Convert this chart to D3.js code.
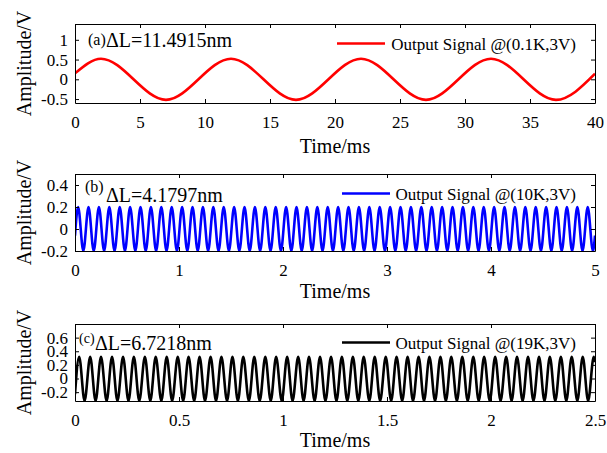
<!DOCTYPE html>
<html>
<head>
<meta charset="utf-8">
<script src="https://cdn.jsdelivr.net/npm/d3@7"></script>
<style>
  body { margin: 0; background: #fff; }
  svg text { font-family: "Liberation Serif", "Times New Roman", serif; fill: #000; }
</style>
</head>
<body>
<div id="chart"></div>
<script>
// Panel (a): 0.1K signal, extrema (time in ms, amplitude in V)
const timeA = [0, 2, 7, 12, 17, 22, 27, 32, 37, 40];
const ampA = [0.15, 0.52, -0.52, 0.52, -0.52, 0.52, -0.52, 0.52, -0.52, 0.14];

// Panel (b): 10K signal, times of the peaks / troughs (alternating), ends
const extremaB = [
  0.03, 0.08, 0.13, 0.18, 0.23, 0.28, 0.33, 0.38, 0.43, 0.48, 0.53, 0.58, 0.63, 0.68, 0.73, 0.78, 0.83, 0.88, 0.93, 0.98,
  1.03, 1.08, 1.13, 1.18, 1.23, 1.28, 1.33, 1.38, 1.43, 1.48, 1.53, 1.58, 1.63, 1.68, 1.73, 1.78, 1.83, 1.88, 1.93, 1.98,
  2.03, 2.08, 2.13, 2.18, 2.23, 2.28, 2.33, 2.38, 2.43, 2.48, 2.53, 2.58, 2.63, 2.68, 2.73, 2.78, 2.83, 2.88, 2.93, 2.98,
  3.03, 3.08, 3.13, 3.18, 3.23, 3.28, 3.33, 3.38, 3.43, 3.48, 3.53, 3.58, 3.63, 3.68, 3.73, 3.78, 3.83, 3.88, 3.93, 3.98,
  4.03, 4.08, 4.13, 4.18, 4.23, 4.28, 4.33, 4.38, 4.43, 4.48, 4.53, 4.58, 4.63, 4.68, 4.73, 4.78, 4.83, 4.88, 4.93, 4.98
];
const levelsB = [0.2, -0.2];        // peak, trough
const endsB = [[0, -0.06], [5, -0.06]];

// Panel (c): 19K signal
const extremaC = [
  0.020, 0.046, 0.073, 0.099, 0.125, 0.152, 0.178, 0.204, 0.231, 0.257, 0.283, 0.309, 0.336, 0.362, 0.388, 0.415, 0.441, 0.467, 0.494,
  0.520, 0.546, 0.573, 0.599, 0.625, 0.652, 0.678, 0.704, 0.731, 0.757, 0.783, 0.809, 0.836, 0.862, 0.888, 0.915, 0.941, 0.967, 0.994,
  1.020, 1.046, 1.073, 1.099, 1.125, 1.152, 1.178, 1.204, 1.231, 1.257, 1.283, 1.309, 1.336, 1.362, 1.388, 1.415, 1.441, 1.467, 1.494,
  1.520, 1.546, 1.573, 1.599, 1.625, 1.652, 1.678, 1.704, 1.731, 1.757, 1.783, 1.809, 1.836, 1.862, 1.888, 1.915, 1.941, 1.967, 1.994,
  2.020, 2.046, 2.073, 2.099, 2.125, 2.152, 2.178, 2.204, 2.231, 2.257, 2.283, 2.309, 2.336, 2.362, 2.388, 2.415, 2.441, 2.467, 2.494
];
const levelsC = [0.32, -0.33];
const endsC = [[0, -0.23], [2.5, 0.24]];

// Axis domains and tick labels
const xDomains = [[0, 40], [0, 5], [0, 2.5]];
const yDomains = [[-0.6, 1.4], [-0.2, 0.5], [-0.33, 0.8]];
const xTicks = [[0, 5, 10, 15, 20, 25, 30, 35, 40], [0, 1, 2, 3, 4, 5], [0, 0.5, 1, 1.5, 2, 2.5]];
const yTicks = [[-0.5, 0, 0.5, 1], [-0.2, 0, 0.2, 0.4], [-0.2, 0, 0.2, 0.4, 0.6]];
const yTickLabels = [["-0.5", "0", "0.5", "1"], ["-0.2", "0", "0.2", "0.4"], ["-0.2", "0", "0.2", "0.4", "0.6"]];
const panelTags = ["(a)", "(b)", "(c)"];
const deltaL = ["\u0394L=11.4915nm", "\u0394L=4.1797nm", "\u0394L=6.7218nm"];
const legendNames = ["Output Signal @(0.1K,3V)", "Output Signal @(10K,3V)", "Output Signal @(19K,3V)"];

// Build point lists
const seriesA = timeA.map((t, i) => [t, ampA[i]]);
const seriesB = [endsB[0], ...extremaB.map((t, i) => [t, levelsB[i % 2]]), endsB[1]];
const seriesC = [endsC[0], ...extremaC.map((t, i) => [t, levelsC[i % 2]]), endsC[1]];
const series = [seriesA, seriesB, seriesC];

// Layout (pixels)
const W = 607, H = 453;
const left = 75, right = 595;
const panels = [
  { top: 24, bottom: 103, color: "#ff0000", labelY: 153, tagX: 88, tagY: 45, tagSize: 16, dlX: 106, dlY: 47, legX: 337, legY: 43.5 },
  { top: 174, bottom: 251, color: "#0000ff", labelY: 298, tagX: 85, tagY: 192, tagSize: 16, dlX: 106, dlY: 202, legX: 342, legY: 193.5 },
  { top: 324, bottom: 401, color: "#000000", labelY: 447, tagX: 79, tagY: 343, tagSize: 14, dlX: 95, dlY: 350, legX: 342, legY: 342.5 }
];

const svg = d3.select("#chart")
  .append("svg")
  .attr("width", W)
  .attr("height", H);

panels.forEach((p, k) => {
  const x = d3.scaleLinear().domain(xDomains[k]).range([left, right]);
  const y = d3.scaleLinear().domain(yDomains[k]).range([p.bottom, p.top]);

  const g = svg.append("g");

  // clip for the signal
  const clipId = "clip" + k;
  svg.append("clipPath").attr("id", clipId)
    .append("rect")
    .attr("x", left).attr("y", p.top)
    .attr("width", right - left).attr("height", p.bottom - p.top);

  const line = d3.line()
    .x(d => x(d[0]))
    .y(d => y(d[1]))
    .curve(d3.curveMonotoneX);

  g.append("path")
    .datum(series[k])
    .attr("clip-path", `url(#${clipId})`)
    .attr("fill", "none")
    .attr("stroke", p.color)
    .attr("stroke-width", 2.6)
    .attr("stroke-linejoin", "round")
    .attr("d", line);

  // axes, ticks inside on all four sides
  const bottomAxis = g.append("g")
    .attr("transform", `translate(0,${p.bottom})`)
    .call(d3.axisBottom(x).tickValues(xTicks[k]).tickFormat(d3.format("")).tickSizeInner(-4).tickSizeOuter(0).tickPadding(13));
  const topAxis = g.append("g")
    .attr("transform", `translate(0,${p.top})`)
    .call(d3.axisTop(x).tickValues(xTicks[k]).tickFormat("").tickSizeInner(-4).tickSizeOuter(0));
  const leftAxis = g.append("g")
    .attr("transform", `translate(${left},0)`)
    .call(d3.axisLeft(y).tickValues(yTicks[k]).tickFormat((d, i) => yTickLabels[k][i]).tickSizeInner(-4).tickSizeOuter(0).tickPadding(7));
  const rightAxis = g.append("g")
    .attr("transform", `translate(${right},0)`)
    .call(d3.axisRight(y).tickValues(yTicks[k]).tickFormat("").tickSizeInner(-4).tickSizeOuter(0));

  [bottomAxis, topAxis, leftAxis, rightAxis].forEach(a => {
    a.selectAll("path, line").attr("stroke", "#000").attr("stroke-width", 1);
    a.selectAll("text").style("font-size", "17px").style("font-family", null).attr("fill", "#000");
  });

  // axis labels
  g.append("text")
    .attr("x", (left + right) / 2)
    .attr("y", p.labelY)
    .attr("text-anchor", "middle")
    .style("font-size", "20px")
    .text("Time/ms");

  g.append("text")
    .attr("transform", `translate(31,${(p.top + p.bottom) / 2}) rotate(-90)`)
    .attr("text-anchor", "middle")
    .style("font-size", "20px")
    .text("Amplitude/V");

  // panel tag and delta L
  g.append("text")
    .attr("x", p.tagX).attr("y", p.tagY)
    .style("font-size", p.tagSize + "px")
    .text(panelTags[k]);
  g.append("text")
    .attr("x", p.dlX).attr("y", p.dlY)
    .style("font-size", "20px")
    .text(deltaL[k]);

  // legend
  g.append("line")
    .attr("x1", p.legX).attr("x2", p.legX + 48)
    .attr("y1", p.legY).attr("y2", p.legY)
    .attr("stroke", p.color)
    .attr("stroke-width", 2.6);
  g.append("text")
    .attr("x", 576).attr("y", p.legY + 6.5)
    .attr("text-anchor", "end")
    .style("font-size", "17px")
    .text(legendNames[k]);
});
</script>
</body>
</html>
